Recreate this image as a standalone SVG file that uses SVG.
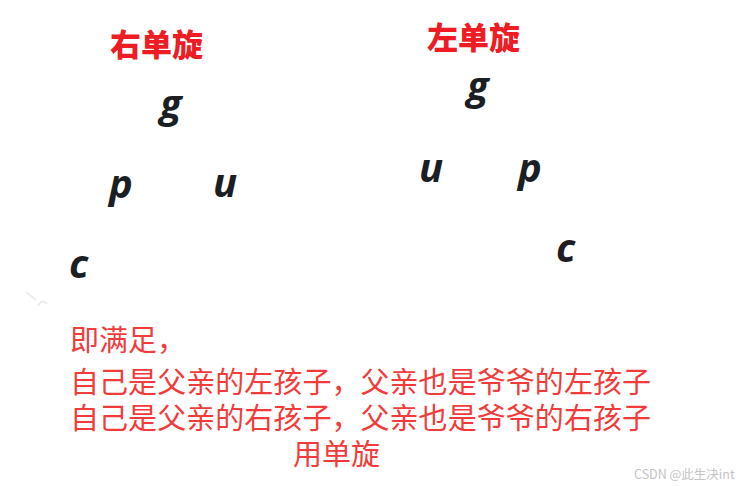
<svg xmlns="http://www.w3.org/2000/svg" width="748" height="486" viewBox="0 0 748 486">
<style>
.title{font-family:"Noto Sans CJK SC","Noto Sans",sans-serif;font-weight:900;font-size:31px;fill:#ee1c25}
.letter{font-family:"Open Sans","Noto Sans",sans-serif;font-weight:700;font-style:italic;font-size:40px;fill:#1b1f24}
.note{font-family:"Noto Sans CJK SC","Noto Sans",sans-serif;font-size:29px;fill:#f23b3b}
.wm{font-family:"Noto Sans CJK SC","Liberation Sans",sans-serif;font-size:12.5px;fill:#c4c4c4}
</style>
<rect width="748" height="486" fill="#ffffff"/>
<g id="right-rotation">
<text class="title" x="110" y="56">右单旋</text>
<g id="r-g"><text class="letter" x="160" y="118">g</text></g>
<g id="r-p"><text class="letter" x="109" y="198">p</text></g>
<g id="r-u"><text class="letter" x="213" y="197">u</text></g>
<g id="r-c"><text class="letter" x="69" y="278">c</text></g>
</g>
<g id="left-rotation">
<text class="title" x="427" y="49">左单旋</text>
<g id="l-g"><text class="letter" x="467" y="100">g</text></g>
<g id="l-u"><text class="letter" x="419" y="182">u</text></g>
<g id="l-p"><text class="letter" x="518" y="182">p</text></g>
<g id="l-c"><text class="letter" x="556" y="262">c</text></g>
</g>
<g id="connectors"></g>
<g id="mark" fill="none" stroke="#ececec" stroke-width="2">
<path d="M26 292 L36 300"/>
<path d="M38 306 Q42 298 47 304"/>
</g>
<g id="note">
<text class="note" x="70" y="351">即满足，</text>
<text class="note" x="70" y="393" textLength="581">自己是父亲的左孩子，父亲也是爷爷的左孩子</text>
<text class="note" x="70" y="429" textLength="581">自己是父亲的右孩子，父亲也是爷爷的右孩子</text>
<text class="note" x="293" y="465">用单旋</text>
</g>
<text class="wm" x="634" y="479">CSDN @此生决int</text>
</svg>
